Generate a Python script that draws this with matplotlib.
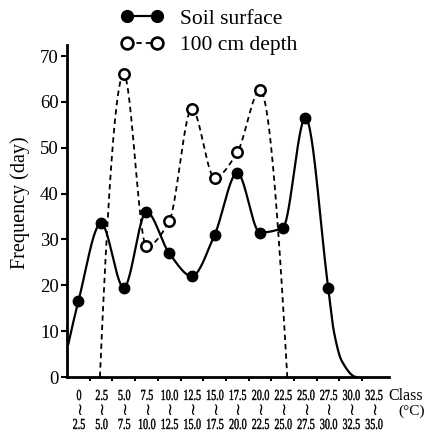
import numpy as np
import matplotlib
matplotlib.use("Agg")
import matplotlib.pyplot as plt
from matplotlib.lines import Line2D
from matplotlib.textpath import TextPath
from matplotlib.patches import PathPatch
from matplotlib.font_manager import FontProperties
from matplotlib.transforms import Affine2D

# Clases de temperatura (limites inferior y superior, en grados C)
class_low = ["0", "2.5", "5.0", "7.5", "10.0", "12.5", "15.0", "17.5",
             "20.0", "22.5", "25.0", "27.5", "30.0", "32.5"]
class_high = ["2.5", "5.0", "7.5", "10.0", "12.5", "15.0", "17.5", "20.0",
              "22.5", "25.0", "27.5", "30.0", "32.5", "35.0"]

# Superficie del suelo: puntos marcados (indice de clase, dias)
surface_x = [0, 1, 2, 3, 4, 5, 6, 7, 8, 9, 10, 11]
surface_y = [16.5, 33.5, 19.5, 36, 27, 22, 31, 44.5, 31.5, 32.5, 56.5, 19.5]
# Extremos de la curva sin marcador
surface_head_x, surface_head_y = [-0.45], [7]
surface_tail_x, surface_tail_y = [11.25, 11.6, 12.25], [10, 3.5, 0]

# 100 cm de profundidad
depth_x = [2, 3, 4, 5, 6, 7, 8]
depth_y = [66, 28.5, 34, 58.5, 43.5, 49, 62.5]
depth_head_x, depth_head_y = [0.95], [0]
depth_tail_x, depth_tail_y = [9.2], [0]


def pchip(x, y, xs):
    # Interpolacion cubica monotona (estilo PCHIP) para trazar la curva suave
    x = np.asarray(x, float)
    y = np.asarray(y, float)
    h = np.diff(x)
    delta = np.diff(y) / h
    n = len(x)
    d = np.zeros(n)
    for k in range(1, n - 1):
        if delta[k - 1] * delta[k] > 0:
            w1 = 2 * h[k] + h[k - 1]
            w2 = h[k] + 2 * h[k - 1]
            d[k] = (w1 + w2) / (w1 / delta[k - 1] + w2 / delta[k])
    # pendientes en los extremos
    for k, i, j in ((0, 0, 1), (n - 1, n - 2, n - 3)):
        v = ((2 * h[i] + h[j]) * delta[i] - h[i] * delta[j]) / (h[i] + h[j])
        if np.sign(v) != np.sign(delta[i]):
            v = 0
        elif np.sign(delta[i]) != np.sign(delta[j]) and abs(v) > abs(3 * delta[i]):
            v = 3 * delta[i]
        d[k] = v
    idx = np.clip(np.searchsorted(x, xs) - 1, 0, n - 2)
    t = (xs - x[idx]) / h[idx]
    h00 = 2 * t**3 - 3 * t**2 + 1
    h10 = t**3 - 2 * t**2 + t
    h01 = -2 * t**3 + 3 * t**2
    h11 = t**3 - t**2
    return h00 * y[idx] + h10 * h[idx] * d[idx] + h01 * y[idx + 1] + h11 * h[idx] * d[idx + 1]


plt.rcParams['font.family'] = ['Liberation Serif', 'DejaVu Serif']

fig = plt.figure(figsize=(4.26, 4.38), dpi=100)
H = 438
ax = fig.add_axes([67 / 426, 1 - 377 / H, (389 - 67) / 426, (377 - 45) / H])

dash = (0, (3, 2.2))

# Curva de superficie
sx = surface_head_x + surface_x + surface_tail_x
sy = surface_head_y + surface_y + surface_tail_y
xs = np.linspace(sx[0], sx[-1], 600)
ax.plot(xs, np.clip(pchip(sx, sy, xs), 0, None), color='black', lw=1.6,
        solid_capstyle='round')
ax.plot(surface_x, surface_y, 'o', color='black', ms=7.5, zorder=3)

# Curva a 100 cm
dx = depth_head_x + depth_x + depth_tail_x
dy = depth_head_y + depth_y + depth_tail_y
xs = np.linspace(dx[0], dx[-1], 600)
ax.plot(xs, np.clip(pchip(dx, dy, xs), 0, None), color='black', lw=1.3,
        linestyle=dash)
ax.plot(depth_x, depth_y, 'o', mfc='white', mec='black', mew=1.8, ms=7.5,
        zorder=3)

ax.set_xlim(-0.5, 13.68)
ax.set_ylim(0, 72.4)
ax.spines['top'].set_visible(False)
ax.spines['right'].set_visible(False)
ax.spines['left'].set_linewidth(2)
ax.spines['bottom'].set_linewidth(2)

ax.set_yticks(range(0, 71, 10))
ax.tick_params(axis='y', labelsize=13.5, length=4, width=1.5, pad=2)
ax.set_xticks(np.arange(0.5, 13, 1))
ax.set_xticklabels([])
ax.tick_params(axis='x', length=3, width=1.5)

fig.text(20 / 426, 1 - 203 / H, "Frequency (day)", rotation=90,
         ha='center', va='center', fontsize=14.5)

# Texto estrecho: se dibuja como trayectoria comprimida en horizontal
narrow_font = FontProperties(family='Liberation Serif')


def narrow_text(px, py, s, size=11, squeeze=0.66):
    path = TextPath((0, 0), s, size=size, prop=narrow_font)
    ext = path.get_extents()
    k = fig.dpi / 72
    tr = (Affine2D()
          .translate(-(ext.x0 + ext.x1) / 2, -(ext.y0 + ext.y1) / 2)
          .scale(k * squeeze, k)
          .translate(px, H - py))
    fig.add_artist(PathPatch(tr.transform_path(path), facecolor='black',
                             edgecolor='black', lw=0.3, transform=None))


# Etiquetas de clase en tres filas
for i, (lo, hi) in enumerate(zip(class_low, class_high)):
    px = 79 + 22.7 * i
    narrow_text(px, 395, lo)
    fig.text(px / 426, 1 - 410 / H, "\u2240", ha='center', va='center',
             fontsize=12, family='DejaVu Sans')
    narrow_text(px, 424, hi)
fig.text(388 / 426, 1 - 396 / H, "Class", ha='left', va='center', fontsize=11.5)
fig.text(398 / 426, 1 - 411 / H, "(\u00b0C)", ha='left', va='center', fontsize=11)

handles = [
    Line2D([0], [0], color='black', lw=1.6, marker='o', ms=8.5),
    Line2D([0], [0], color='black', lw=1.3, linestyle=dash,
           marker='o', mfc='white', mec='black', mew=1.9, ms=8.5),
]
fig.legend(handles, ["Soil surface", "100 cm depth"], loc='upper left',
           bbox_to_anchor=(112 / 426, 1.0), frameon=False, fontsize=15.5,
           numpoints=2, handlelength=2.0, handletextpad=0.75, labelspacing=0.3,
           borderaxespad=0.0)

fig.savefig("out.png", dpi=100)
